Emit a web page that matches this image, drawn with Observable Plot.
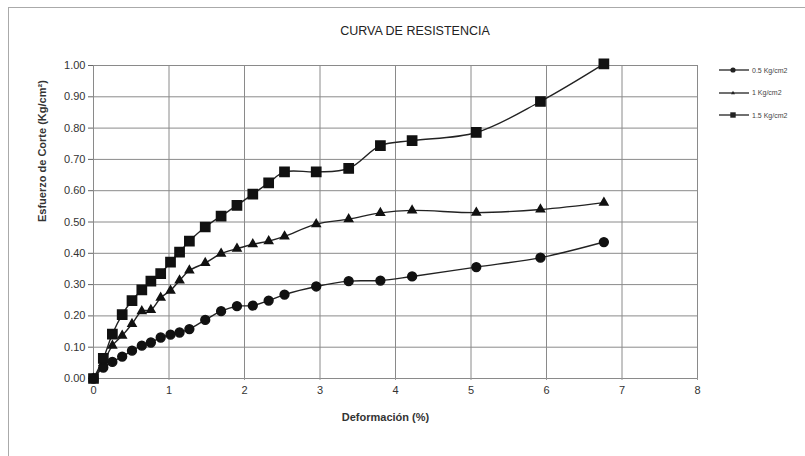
<!DOCTYPE html>
<html>
<head>
<meta charset="utf-8">
<script src="https://cdn.jsdelivr.net/npm/d3@7"></script>
<script src="https://cdn.jsdelivr.net/npm/@observablehq/plot@0.6"></script>
<style>
  html, body { margin: 0; padding: 0; background: #fff; }
  #wrap { position: relative; width: 805px; height: 456px; overflow: hidden; font-family: "Liberation Sans", Arial, sans-serif; }
  #border { position: absolute; left: 8px; top: 7px; width: 805px; height: 460px; border-left: 1px solid #aaa; border-top: 1px solid #aaa; }
  #title { position: absolute; left: 0; width: 830px; top: 24px; text-align: center; font-size: 12.5px; color: #222; }
  #legend { position: absolute; left: 718px; top: 59px; font-size: 7px; color: #444; }
  .row { display: flex; align-items: center; height: 22.5px; }
  .row svg { margin-right: 2px; }
  #chart { position: absolute; left: 0; top: 0; }
</style>
</head>
<body>
<div id="wrap">
  <div id="border"></div>
  <div id="chart"></div>
  <div id="title"></div>
  <div id="legend"></div>
</div>
<script>
const title = "CURVA DE RESISTENCIA";
const xLabel = "Deformación (%)";
const yLabel = "Esfuerzo de Corte (Kg/cm²)";
const seriesNames = ["0.5 Kg/cm2", "1 Kg/cm2", "1.5 Kg/cm2"];
const symbols = ["circle", "triangle", "square"];
const xTicks = [0, 1, 2, 3, 4, 5, 6, 7, 8];
const yTicks = [0, 0.1, 0.2, 0.3, 0.4, 0.5, 0.6, 0.7, 0.8, 0.9, 1.0];

const deformacion = [0, 0.13, 0.25, 0.38, 0.51, 0.64, 0.76, 0.89, 1.02, 1.14, 1.27, 1.48, 1.69, 1.90, 2.11, 2.32, 2.53, 2.95, 3.38, 3.80, 4.22, 5.07, 5.92, 6.76];
const s05 = [0, 0.035, 0.053, 0.070, 0.089, 0.105, 0.115, 0.131, 0.140, 0.147, 0.158, 0.187, 0.215, 0.231, 0.233, 0.249, 0.268, 0.294, 0.311, 0.313, 0.326, 0.356, 0.386, 0.436];
const s10 = [0, 0.050, 0.105, 0.137, 0.174, 0.215, 0.219, 0.258, 0.281, 0.313, 0.345, 0.369, 0.399, 0.415, 0.429, 0.439, 0.454, 0.493, 0.509, 0.529, 0.537, 0.530, 0.540, 0.562];
const s15 = [0, 0.064, 0.142, 0.204, 0.249, 0.283, 0.311, 0.335, 0.372, 0.404, 0.439, 0.484, 0.519, 0.553, 0.589, 0.625, 0.660, 0.660, 0.671, 0.744, 0.760, 0.786, 0.885, 1.005];

const seriesValues = [s05, s10, s15];
const data = [];
seriesValues.forEach((vals, i) => {
  vals.forEach((v, j) => data.push({ serie: seriesNames[i], x: deformacion[j], y: v }));
});
const markerR = [4.4, 3.0, 5.2];

const plot = Plot.plot({
  width: 805,
  height: 456,
  marginLeft: 93,
  marginRight: 108,
  marginTop: 65,
  marginBottom: 78,
  style: { fontFamily: "Liberation Sans, Arial, sans-serif", fontSize: "11px", color: "#333", background: "transparent" },
  x: { domain: [0, 8], label: null },
  y: { domain: [0, 1], label: null },
  symbol: { domain: seriesNames, range: symbols },
  marks: [
    Plot.gridX(xTicks, { stroke: "#8a8a8a", strokeOpacity: 1, strokeWidth: 1 }),
    Plot.gridY(yTicks, { stroke: "#8a8a8a", strokeOpacity: 1, strokeWidth: 1 }),
    Plot.frame({ stroke: "#8a8a8a" }),
    Plot.axisY(yTicks, { tickSize: 5, tickPadding: 3, stroke: "#666", fontSize: 11, fill: "#333", tickFormat: d3.format(".2f"), label: null }),
    Plot.axisX(xTicks, { tickSize: 2, tickPadding: 6, stroke: "#999", fontSize: 11, fill: "#333", tickFormat: d3.format("d"), label: null }),
    Plot.line(data, { x: "x", y: "y", z: "serie", stroke: "#222", strokeWidth: 1.4, curve: "catmull-rom" }),
    ...seriesNames.map((name, i) =>
      Plot.dot(data.filter(d => d.serie === name), { x: "x", y: "y", symbol: "serie", fill: "#111", stroke: "#111", r: markerR[i] })
    ),
    Plot.text([xLabel], { frameAnchor: "bottom", dy: 42, fontWeight: "bold", fontSize: 11, fill: "#333", dx: -10 }),
    Plot.text([yLabel], { frameAnchor: "left", dx: -51, rotate: -90, fontWeight: "bold", fontSize: 11, fill: "#333" })
  ]
});
document.getElementById("chart").appendChild(plot);
document.getElementById("title").textContent = title;

const legend = document.getElementById("legend");
const shapes = {
  circle: '<circle cx="15" cy="5" r="2.6" fill="#222"/>',
  triangle: '<path d="M15,2.8 L17,6.3 L13,6.3 Z" fill="#222"/>',
  square: '<rect x="12.3" y="2.3" width="5.4" height="5.4" fill="#222"/>'
};
seriesNames.forEach((name, i) => {
  const row = document.createElement("div");
  row.className = "row";
  row.innerHTML = '<svg width="32" height="10"><line x1="1" y1="5" x2="31" y2="5" stroke="#222" stroke-width="1.3"/>' + shapes[symbols[i]] + '</svg><span>' + name + '</span>';
  legend.appendChild(row);
});
</script>
</body>
</html>
